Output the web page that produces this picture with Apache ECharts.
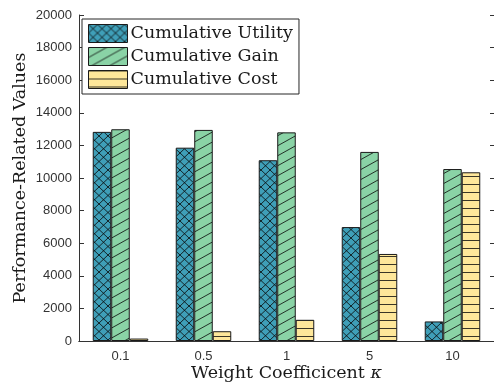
<!DOCTYPE html>
<html>
<head>
<meta charset="utf-8">
<script src="https://cdn.jsdelivr.net/npm/echarts@6/dist/echarts.min.js"></script>
<style>
  html, body { margin: 0; padding: 0; background: #ffffff; }
  #chart { width: 494px; height: 385px; }
</style>
</head>
<body>
<div id="chart"></div>
<script>
// Weight coefficient categories and cumulative results per category
const categories = ['0.1', '0.5', '1', '5', '10'];
const utilityValues = [12830, 11860, 11090, 6990, 1200];
const gainValues = [12990, 12950, 12800, 11600, 10550];
const costValues = [150, 600, 1300, 5340, 10350];
const seriesNames = ['Cumulative Utility', 'Cumulative Gain', 'Cumulative Cost'];
const yTicks = { min: 0, max: 20000, step: 2000 };

// Build a repeating hatch tile: solid fill plus families of parallel lines
function hatchTile(fill, w, h, families) {
  const c = document.createElement('canvas');
  c.width = w;
  c.height = h;
  const ctx = c.getContext('2d');
  ctx.fillStyle = fill;
  ctx.fillRect(0, 0, w, h);
  ctx.strokeStyle = 'rgba(10,10,10,0.9)';
  ctx.lineWidth = 0.9;
  families.forEach(function (f) {
    for (let k = -6 * h; k <= 6 * h; k += f.spacing) {
      const c0 = k + (f.offset || 0);
      ctx.beginPath();
      ctx.moveTo(-w, c0 - f.slope * w);
      ctx.lineTo(2 * w, c0 + f.slope * 2 * w);
      ctx.stroke();
    }
  });
  return { image: c, repeat: 'repeat' };
}

const utilityFill = hatchTile('#3f9fb8', 18, 17, [
  { slope: 17 / 18, spacing: 8.5 },
  { slope: -17 / 18, spacing: 8.5 }
]);
const gainFill = hatchTile('#8ad3a6', 18, 10, [
  { slope: -10 / 18, spacing: 10 }
]);
const costFill = hatchTile('#fee79a', 8, 8, [
  { slope: 0, spacing: 8, offset: 0.5 }
]);

const tickFont = { fontFamily: 'Liberation Sans', fontSize: 13, color: '#333333' };
const serif = 'DejaVu Serif';
const titleSize = 17.5;
const axisColor = '#333333';

function barSeries(name, values, fill) {
  return {
    name: name,
    type: 'bar',
    data: values,
    barWidth: '22.3%',
    barGap: '0%',
    itemStyle: { color: fill, borderColor: '#1a1a1a', borderWidth: 1 }
  };
}

const chart = echarts.init(document.getElementById('chart'), null, { renderer: 'canvas' });
chart.setOption({
  animation: false,
  backgroundColor: '#ffffff',
  grid: { left: 79, right: 0, top: 15, bottom: 44, containLabel: false, outerBoundsMode: 'none' },
  legend: {
    orient: 'vertical',
    left: 82,
    top: 19,
    icon: 'rect',
    itemWidth: 39,
    itemHeight: 18,
    itemGap: 4,
    padding: [5, 6, 5, 6],
    backgroundColor: '#ffffff',
    borderColor: '#262626',
    borderWidth: 1,
    borderRadius: 0,
    itemStyle: { borderWidth: 1, borderColor: '#1a1a1a' },
    textStyle: { fontFamily: serif, fontSize: titleSize, color: '#1a1a1a', padding: [0, 0, 0, -2] },
    data: seriesNames
  },
  xAxis: [
    {
      type: 'category',
      data: categories,
      position: 'bottom',
      axisLine: { lineStyle: { color: axisColor } },
      axisTick: { inside: true, alignWithLabel: true, length: 5, lineStyle: { color: axisColor } },
      axisLabel: Object.assign({ margin: 9 }, tickFont),
      name: '{a|Weight Coefficicent }{b|κ}',
      nameLocation: 'middle',
      nameGap: 23,
      nameMoveOverlap: false,
      nameTextStyle: {
        fontFamily: serif, fontSize: titleSize, color: '#1a1a1a',
        rich: {
          a: { fontFamily: serif, fontSize: titleSize, color: '#1a1a1a' },
          b: { fontFamily: serif, fontSize: titleSize, fontStyle: 'italic', color: '#1a1a1a' }
        }
      }
    },
    {
      type: 'category',
      data: categories,
      position: 'top',
      axisLine: { lineStyle: { color: axisColor } },
      axisTick: { inside: true, alignWithLabel: true, length: 5, lineStyle: { color: axisColor } },
      axisLabel: { show: false }
    }
  ],
  yAxis: [
    {
      type: 'value',
      min: yTicks.min,
      max: yTicks.max,
      interval: yTicks.step,
      position: 'left',
      splitLine: { show: false },
      axisLine: { show: true, lineStyle: { color: axisColor } },
      axisTick: { show: true, inside: true, length: 5, lineStyle: { color: axisColor } },
      axisLabel: Object.assign({ margin: 7, formatter: function (v) { return String(v); } }, tickFont),
      name: 'Performance-Related Values',
      nameLocation: 'middle',
      nameGap: 50,
      nameMoveOverlap: false,
      nameTextStyle: { fontFamily: serif, fontSize: titleSize, color: '#1a1a1a' }
    },
    {
      type: 'value',
      min: yTicks.min,
      max: yTicks.max,
      interval: yTicks.step,
      position: 'right',
      splitLine: { show: false },
      axisLine: { show: true, lineStyle: { color: axisColor } },
      axisTick: { show: true, inside: true, length: 4, lineStyle: { color: axisColor } },
      axisLabel: { show: false }
    }
  ],
  series: [
    barSeries(seriesNames[0], utilityValues, utilityFill),
    barSeries(seriesNames[1], gainValues, gainFill),
    barSeries(seriesNames[2], costValues, costFill)
  ]
});
</script>
</body>
</html>
